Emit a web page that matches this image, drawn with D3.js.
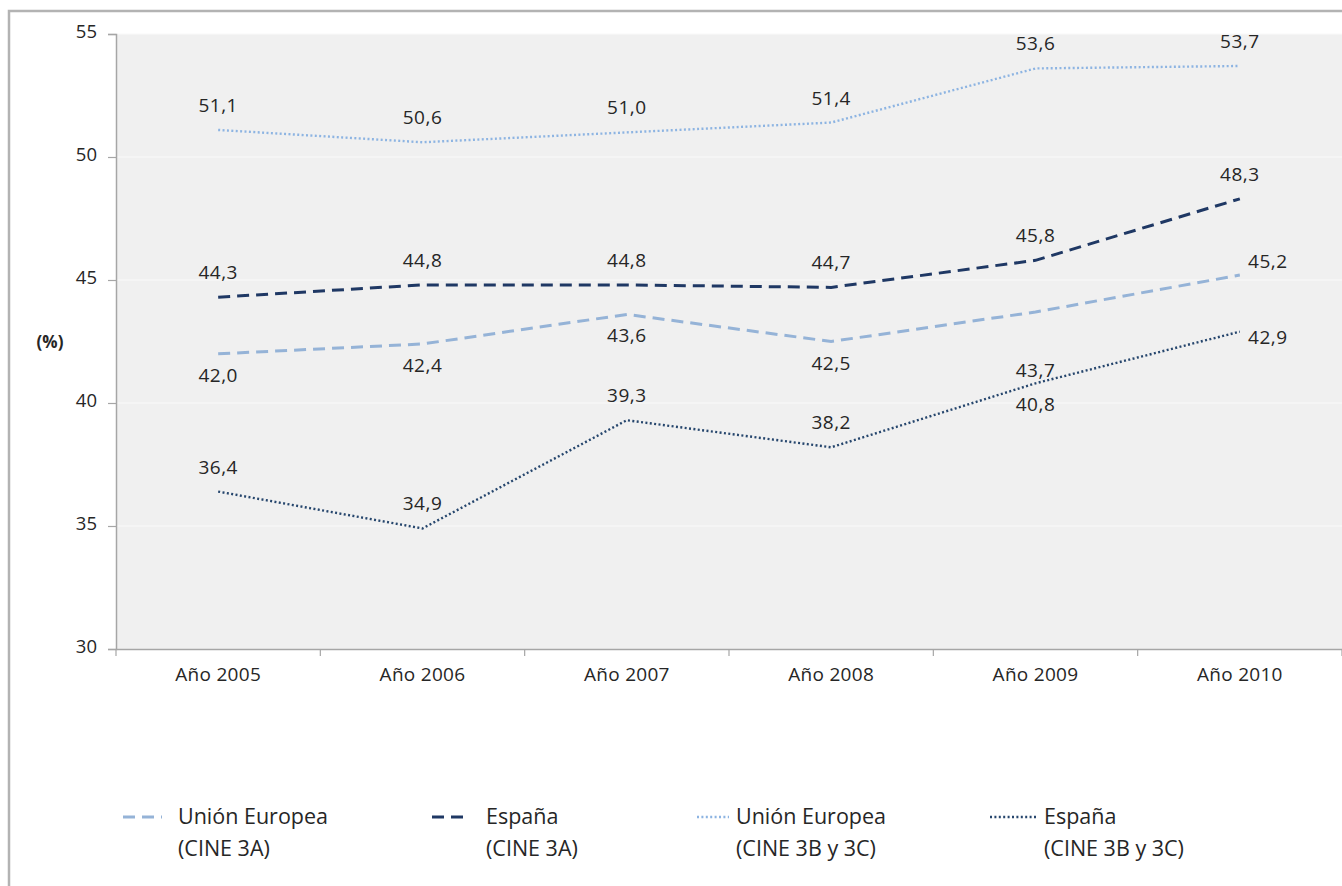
<!DOCTYPE html>
<html><head><meta charset="utf-8">
<script src="https://cdn.jsdelivr.net/npm/d3@7"></script>
<style>
html,body{margin:0;padding:0;background:#fff;}
svg{display:block;}
text{font-family:"Open Sans",sans-serif;fill:#262626;}
</style></head>
<body>
<svg id="c" width="1342" height="886"></svg>
<script>
const categories = ["Año 2005","Año 2006","Año 2007","Año 2008","Año 2009","Año 2010"];
const ue3A = [42.0,42.4,43.6,42.5,43.7,45.2];
const es3A = [44.3,44.8,44.8,44.7,45.8,48.3];
const ue3BC = [51.1,50.6,51.0,51.4,53.6,53.7];
const es3BC = [36.4,34.9,39.3,38.2,40.8,42.9];
const yTicks = [30,35,40,45,50,55];
const seriesNames = [["Unión Europea","(CINE 3A)"],["España","(CINE 3A)"],["Unión Europea","(CINE 3B y 3C)"],["España","(CINE 3B y 3C)"]];
const labelPlacement = [
  ["below","below","below","below","belowFar","rightAbove"],
  ["above","above","above","above","above","above"],
  ["above","above","above","above","above","above"],
  ["above","above","above","above","below","right"]
];

const series = [
  {values:ue3A, color:"#95b3d7", dash:"12,7", width:3},
  {values:es3A, color:"#1f3864", dash:"12,7", width:3},
  {values:ue3BC, color:"#8db4e2", dash:"2,2.4", width:2.4},
  {values:es3BC, color:"#26466d", dash:"2,2.4", width:2.4}
];

const svg = d3.select("#c");
const L=116, R=1342, T=34, B=649;

// outer frame
svg.append("rect").attr("x",9).attr("y",11).attr("width",1400).attr("height",1000)
  .attr("fill","none").attr("stroke","#b3b3b3").attr("stroke-width",2.5);

// plot area
svg.append("rect").attr("x",L).attr("y",T).attr("width",R-L).attr("height",B-T).attr("fill","#f0f0f0");

const x = d3.scalePoint().domain(categories).range([L,R]).padding(0.5);
const xBand = d3.scaleBand().domain(categories).range([L,R]);
const y = d3.scaleLinear().domain([30,55]).range([B,T]);

// gridlines
svg.append("g").selectAll("line").data(yTicks.slice(1)).join("line")
  .attr("x1",L).attr("x2",R).attr("y1",d=>y(d)).attr("y2",d=>y(d))
  .attr("stroke","#f9f9f9").attr("stroke-width",1.2);

// y axis
const yAxis = svg.append("g").attr("transform",`translate(${L},0)`)
  .call(d3.axisLeft(y).tickValues(yTicks).tickSize(8).tickPadding(11).tickFormat(d3.format("d")));
yAxis.select(".domain").attr("stroke","#a6a6a6").attr("stroke-width",1.5);
yAxis.selectAll(".tick line").attr("stroke","#a6a6a6").attr("stroke-width",1.2);
yAxis.selectAll(".tick text").style("font-family","Open Sans").style("font-size","18.5px").attr("fill","#262626").attr("dy","0.2em");

// x axis
const xAxis = svg.append("g").attr("transform",`translate(0,${B})`)
  .call(d3.axisBottom(xBand).tickSize(0).tickPadding(19));
xAxis.select(".domain").attr("stroke","#a6a6a6").attr("stroke-width",1.5);
xAxis.selectAll(".tick text").style("font-family","Open Sans").style("font-size","19px").style("letter-spacing","0.3px").attr("fill","#262626");
// category boundary ticks
const bounds = categories.map(c=>xBand(c)).concat([xBand(categories[categories.length-1])+xBand.bandwidth()]);
svg.append("g").selectAll("line").data(bounds).join("line")
  .attr("x1",d=>d).attr("x2",d=>d).attr("y1",B).attr("y2",B+7)
  .attr("stroke","#a6a6a6").attr("stroke-width",1.2);

// (%) label
svg.append("text").attr("x",50).attr("y",348).attr("text-anchor","middle")
  .style("font-size","17px").style("font-weight","bold").attr("fill","#262626").text("(%)");

// lines
const line = d3.line().x((d,i)=>x(categories[i])).y(d=>y(d));
series.forEach(s=>{
  svg.append("path").datum(s.values).attr("d",line).attr("fill","none")
    .attr("stroke",s.color).attr("stroke-width",s.width).attr("stroke-dasharray",s.dash);
});

// data labels
const fmt = v => d3.format(".1f")(v).replace(".",",");
const offsets = {
  above:[0,-18], below:[0,28], belowFar:[0,65], right:[28,12], rightAbove:[28,-7]
};
series.forEach((s,si)=>{
  svg.append("g").selectAll("text").data(s.values).join("text")
    .attr("x",(d,i)=>x(categories[i])+offsets[labelPlacement[si][i]][0])
    .attr("y",(d,i)=>y(d)+offsets[labelPlacement[si][i]][1])
    .attr("text-anchor","middle").style("font-size","19px").style("letter-spacing","0.5px").attr("fill","#262626")
    .text(d=>fmt(d));
});

// legend
const legendItems = [
  {x0:123,x1:162,tx:178},
  {x0:432,x1:470,tx:486},
  {x0:697,x1:729,tx:736},
  {x0:990,x1:1037,tx:1044}
];
const lg = svg.append("g");
series.forEach((s,i)=>{
  const it = legendItems[i];
  lg.append("line").attr("x1",it.x0).attr("x2",it.x1).attr("y1",817).attr("y2",817)
    .attr("stroke",s.color).attr("stroke-width",s.width).attr("stroke-dasharray",s.dash);
  const t = lg.append("text").attr("x",it.tx).attr("y",824).style("font-size","21.5px").attr("fill","#333");
  t.append("tspan").attr("x",it.tx).text(seriesNames[i][0]);
  t.append("tspan").attr("x",it.tx).attr("dy",32).text(seriesNames[i][1]);
});
</script>
</body></html>
